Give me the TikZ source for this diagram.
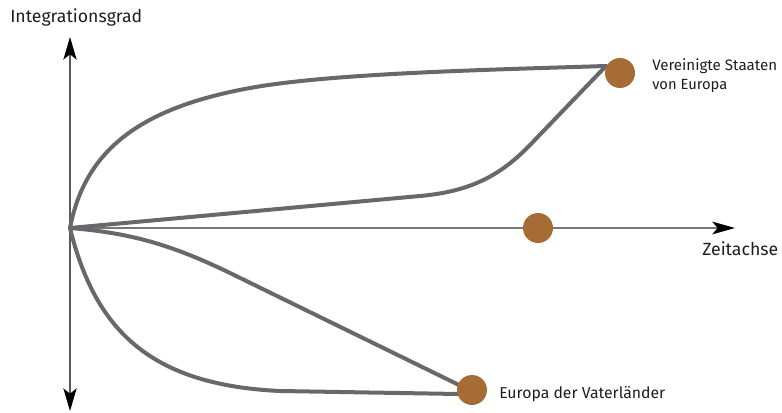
\documentclass[tikz,border=0pt]{standalone}
\usepackage{fontspec}
\setmainfont{Fira Sans}
\usetikzlibrary{arrows.meta}
\definecolor{curvegrey}{RGB}{104,104,108}
\definecolor{axisgrey}{RGB}{120,120,120}
\definecolor{dotbrown}{RGB}{166,108,54}
\definecolor{textblack}{RGB}{30,30,30}
\newcommand{\fitw}[2]{\resizebox{#1}{!}{#2}}
\begin{document}
\begin{tikzpicture}[x=0.75pt,y=-0.75pt,
  curve/.style={draw=curvegrey,line width=3pt,line cap=round,line join=round},
  dot/.style={circle,fill=dotbrown,minimum size=22.5pt,inner sep=0pt},
  lab/.style={text=textblack,inner sep=0pt,anchor=base west}]
\useasboundingbox (0,0) rectangle (782,413);
\coordinate (o) at (70,228);
\coordinate (ytop) at (70,37);
\coordinate (ybot) at (70,411);
\coordinate (xend) at (735,228);
\coordinate (vse) at (606,66);
\coordinate (vde) at (459,385);
\coordinate (vdf) at (458,394);
% axes
\draw[line width=1pt,draw=black!65,{Stealth[length=17pt,width=10pt,inset=4pt,color=black]}-{Stealth[length=17pt,width=10pt,inset=4pt,color=black]}] (ybot) -- (ytop);
\draw[line width=1.6pt,draw=axisgrey,-{Stealth[length=17pt,width=9.5pt,inset=4pt,color=black]}] (o) -- (xend);
% curves
\draw[curve] (o) .. controls (85,150) and (140,108) .. (250,88)
  .. controls (330,73.5) and (480,70) .. (vse);
\draw[curve] (o) -- (420,196) .. controls (470,191.5) and (500,176) .. (530,145) -- (vse);
\draw[curve] (o) .. controls (130,233) and (170,244) .. (230,273) -- (vde);
\draw[curve] (o) .. controls (95,330) and (150,385) .. (280,391) -- (vdf);
% dots
\node[dot] (dvse) at (620,73) {};
\node[dot] (dmid) at (538,228) {};
\node[dot] (dvat) at (472,390) {};
% labels
\node[lab] (ig) at (10,23) {\fitw{99pt}{Integrationsgrad}};
\node[lab] (vs1) at (652,71) {\fitw{93.75pt}{Vereinigte Staaten}};
\node[lab] (vs2) at (652,90) {\fitw{56.25pt}{von Europa}};
\node[lab] (za) at (702,256) {\fitw{57pt}{Zeitachse}};
\node[lab] (ev) at (499,398) {\fitw{124.5pt}{Europa der Vaterländer}};
\end{tikzpicture}
\end{document}
